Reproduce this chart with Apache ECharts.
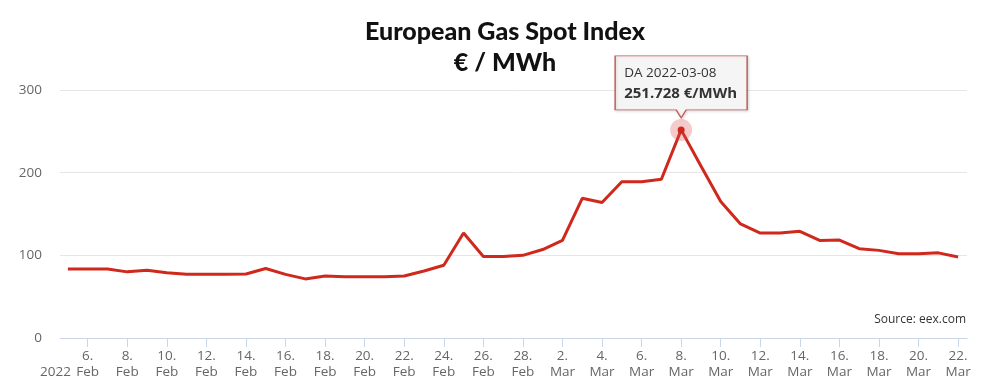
<!DOCTYPE html>
<html>
<head>
<meta charset="utf-8">
<script src="https://cdn.jsdelivr.net/npm/echarts@6/dist/echarts.min.js"></script>
<style>
html,body{margin:0;padding:0;background:#fff;}
#chart{width:1000px;height:392px;}
</style>
</head>
<body>
<div id="chart"></div>
<script>
const titleText = 'European Gas Spot Index\n€ / MWh';
const sourceText = 'Source: eex.com';
const yearLabel = '2022';
const seriesName = 'DA';
const unitText = '€/MWh';
const monthNames = ['Jan','Feb','Mar','Apr','May','Jun','Jul','Aug','Sep','Oct','Nov','Dec'];
const dates = [
 '2022-02-05','2022-02-06','2022-02-07','2022-02-08','2022-02-09','2022-02-10','2022-02-11','2022-02-12',
 '2022-02-13','2022-02-14','2022-02-15','2022-02-16','2022-02-17','2022-02-18','2022-02-19','2022-02-20',
 '2022-02-21','2022-02-22','2022-02-23','2022-02-24','2022-02-25','2022-02-26','2022-02-27','2022-02-28',
 '2022-03-01','2022-03-02','2022-03-03','2022-03-04','2022-03-05','2022-03-06','2022-03-07','2022-03-08',
 '2022-03-09','2022-03-10','2022-03-11','2022-03-12','2022-03-13','2022-03-14','2022-03-15','2022-03-16',
 '2022-03-17','2022-03-18','2022-03-19','2022-03-20','2022-03-21','2022-03-22'
];
const prices = [
 83.5, 83.5, 83.5, 80, 82, 79, 77, 77,
 77, 77.5, 84, 77, 71.5, 75, 74, 74,
 74, 75, 81, 88, 127, 98.5, 98.5, 100,
 107, 118, 169, 164, 189, 189, 192, 251.728,
 208, 165, 138, 127, 127, 129, 118, 118.5,
 108, 106, 102, 102, 103, 98
];
const tickDates = dates.filter((d, i) => i % 2 === 1);
const yTicks = [0, 100, 200, 300];

function toTs(s) {
  const p = s.split('-').map(Number);
  return Date.UTC(p[0], p[1] - 1, p[2]);
}
const DAY = 86400000;
const ts = dates.map(toTs);
const data = ts.map((t, i) => [t, prices[i]]);
const tickTs = tickDates.map(toTs);

const chart = echarts.init(document.getElementById('chart'), null, {renderer: 'canvas'});
const calloutPath = 'path://M0,0 H132 V54 H71 L66,62 L61,54 H0 Z';

chart.setOption({
  animation: false,
  backgroundColor: '#fff',
  title: {
    text: titleText,
    left: 500,
    top: 11,
    textAlign: 'center',
    textStyle: {
      fontFamily: 'Lato, "DejaVu Sans", sans-serif',
      fontWeight: 900,
      fontSize: 25,
      lineHeight: 31,
      color: '#111'
    }
  },
  graphic: [
    {
      type: 'text',
      left: 40,
      top: 365,
      style: {text: yearLabel, font: '13.5px "Open Sans", "DejaVu Sans", sans-serif', fill: '#666'}
    },
    {
      type: 'text',
      right: 34,
      top: 314,
      style: {text: sourceText, font: '12px "Open Sans", "DejaVu Sans", sans-serif', fill: '#333'}
    }
  ],
  grid: {left: 60, right: 33, top: 90, bottom: 54, containLabel: false},
  xAxis: {
    type: 'value',
    min: ts[0] - 0.4 * DAY,
    max: ts[ts.length - 1] + 0.45 * DAY,
    axisLine: {show: true, onZero: false, lineStyle: {color: '#ccd6eb', width: 1}},
    axisTick: {show: true, customValues: tickTs, length: 9, lineStyle: {color: '#ccd6eb'}},
    axisLabel: {
      customValues: tickTs,
      color: '#666',
      fontSize: 13.5,
      lineHeight: 16,
      margin: 10,
      fontFamily: '"Open Sans", "DejaVu Sans", sans-serif',
      formatter: function (v) {
        const d = new Date(v);
        return d.getUTCDate() + '.\n' + monthNames[d.getUTCMonth()];
      }
    },
    splitLine: {show: false}
  },
  yAxis: {
    type: 'value',
    min: yTicks[0],
    max: yTicks[yTicks.length - 1],
    interval: 100,
    axisLine: {show: false},
    axisTick: {show: false},
    axisLabel: {
      color: '#666',
      fontSize: 13.5,
      margin: 18,
      fontFamily: '"Open Sans", "DejaVu Sans", sans-serif'
    },
    splitLine: {lineStyle: {color: '#e6e6e6', width: 1}}
  },
  series: [{
    name: seriesName,
    type: 'line',
    data: data,
    showSymbol: false,
    symbol: 'none',
    lineStyle: {color: '#cf291d', width: 3},
    itemStyle: {color: '#cf291d'},
    markPoint: {
      silent: true,
      data: [
        {type: 'max', valueDim: 'y', symbol: 'circle', symbolSize: 22,
         itemStyle: {color: 'rgba(220,80,80,0.3)'}, label: {show: false}},
        {type: 'max', valueDim: 'y', symbol: 'circle', symbolSize: 7,
         itemStyle: {color: '#cf291d'}, label: {show: false}},
        {type: 'max', valueDim: 'y', symbol: calloutPath, symbolSize: [132, 62], symbolOffset: [0, -43],
         symbolKeepAspect: false,
         itemStyle: {color: 'rgba(247,247,247,0.95)', borderColor: '#c45a55', borderWidth: 1,
                     shadowColor: 'rgba(0,0,0,0.15)', shadowBlur: 3, shadowOffsetX: 1, shadowOffsetY: 1},
         label: {
           show: true,
           position: 'inside',
           offset: [0, -3],
           formatter: function (p) {
             const idx = prices.indexOf(p.value);
             return '{a|' + seriesName + ' ' + dates[idx] + '}\n{b|' + p.value.toFixed(3) + ' ' + unitText + '}';
           },
           rich: {
             a: {fontSize: 13.5, color: '#333', width: 114, align: 'left', lineHeight: 20,
                 fontFamily: '"Open Sans", "DejaVu Sans", sans-serif'},
             b: {fontSize: 15, color: '#333', fontWeight: 'bold', width: 114, align: 'left', lineHeight: 21,
                 fontFamily: '"Open Sans", "DejaVu Sans", sans-serif'}
           }
         }}
      ]
    }
  }]
});
</script>
</body>
</html>
